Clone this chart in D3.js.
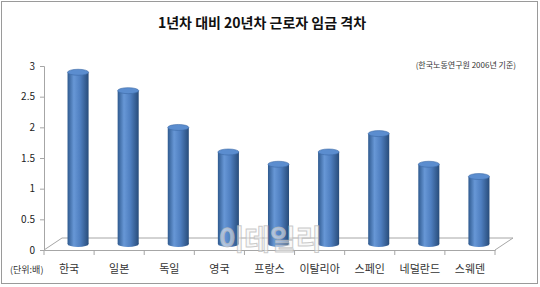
<!DOCTYPE html>
<html>
<head>
<meta charset="utf-8">
<script src="https://cdn.jsdelivr.net/npm/d3@7"></script>
<style>
    body { margin: 0; background: #fff; }
    text { font-family: "Noto Sans CJK KR", "Noto Sans", sans-serif; }
</style>
</head>
<body>
<div id="chart"></div>
<script>
const countries = ["한국", "일본", "독일", "영국", "프랑스", "이탈리아", "스페인", "네덜란드", "스웨덴"];
const gaps = [2.8, 2.5, 1.9, 1.5, 1.3, 1.5, 1.8, 1.3, 1.1];
const yTicks = [0, 0.5, 1, 1.5, 2, 2.5, 3];

const title = "1년차 대비 20년차 근로자 임금 격차";
const sourceNote = "(한국노동연구원 2006년 기준)";
const unitNote = "(단위:배)";

const W = 540, H = 287;
const depth = { dx: 18, dy: 12 };

const svg = d3.select("#chart")
    .append("svg")
    .attr("width", W)
    .attr("height", H);

const defs = svg.append("defs");
const grad = defs.append("linearGradient")
    .attr("id", "cyl")
    .attr("x1", "0%").attr("x2", "100%")
    .attr("y1", "0%").attr("y2", "0%");
grad.append("stop").attr("offset", "0%").attr("stop-color", "#2f5a8f");
grad.append("stop").attr("offset", "30%").attr("stop-color", "#6797d6");
grad.append("stop").attr("offset", "60%").attr("stop-color", "#4f7fc0");
grad.append("stop").attr("offset", "100%").attr("stop-color", "#284c7a");

// outer frame
svg.append("rect")
    .attr("x", 1.5).attr("y", 1.5)
    .attr("width", 536).attr("height", 282)
    .attr("fill", "#fff")
    .attr("stroke", "#9a9a9a");

svg.append("text")
    .attr("x", 262).attr("y", 28)
    .attr("text-anchor", "middle")
    .attr("font-size", 14)
    .attr("font-weight", "bold")
    .attr("fill", "#111")
    .text(title);

svg.append("text")
    .attr("x", 516).attr("y", 68)
    .attr("text-anchor", "end")
    .attr("font-size", 8)
    .attr("fill", "#333")
    .text(sourceNote);

const x = d3.scaleBand()
    .domain(countries)
    .range([44, 495]);

const y = d3.scaleLinear()
    .domain([0, 3])
    .range([250, 66]);

// floor
const floorColor = "#a6a6a6";
const y0 = y(0);
svg.append("path")
    .attr("d", `M44,${y0} L${44 + depth.dx},${y0 - depth.dy} L${495 + depth.dx},${y0 - depth.dy} L495,${y0}`)
    .attr("fill", "none")
    .attr("stroke", floorColor);

// y axis
const yAxis = svg.append("g")
    .attr("transform", "translate(44,0)")
    .call(d3.axisLeft(y).tickValues(yTicks).tickSize(4).tickFormat(d => d));
yAxis.select(".domain").attr("stroke", floorColor);
yAxis.selectAll(".tick line").attr("stroke", floorColor);
yAxis.selectAll(".tick text")
    .attr("font-size", 10)
    .attr("fill", "#222")
    .attr("x", -9)
    .attr("font-family", "\"Liberation Sans\", sans-serif");

// x axis
const xAxis = svg.append("g")
    .attr("transform", `translate(0,${y0})`)
    .call(d3.axisBottom(x).tickSize(0).tickSizeOuter(0));
xAxis.select(".domain").attr("stroke", floorColor);
xAxis.selectAll(".tick text")
    .attr("font-size", 11)
    .attr("fill", "#333")
    .attr("dy", 0)
    .attr("y", 23);

svg.append("g")
    .selectAll("line")
    .data(d3.range(countries.length + 1))
    .join("line")
    .attr("x1", i => 44 + i * x.step())
    .attr("x2", i => 44 + i * x.step())
    .attr("y1", y0)
    .attr("y2", y0 + 5)
    .attr("stroke", floorColor);

svg.append("text")
    .attr("x", 10).attr("y", 273)
    .attr("font-size", 9)
    .attr("fill", "#333")
    .text(unitNote);

// cylinders
const bw = x.bandwidth() * 0.42;
const ry = 3;
const bars = svg.append("g")
    .selectAll("g")
    .data(countries.map((c, i) => ({ c, v: gaps[i] })))
    .join("g")
    .attr("transform", d => `translate(${x(d.c) + x.bandwidth() / 2 + depth.dx / 2},${-depth.dy / 2})`);

bars.append("ellipse")
    .attr("cx", 0).attr("cy", y0)
    .attr("rx", bw / 2).attr("ry", ry)
    .attr("fill", "url(#cyl)");

bars.append("rect")
    .attr("x", -bw / 2)
    .attr("y", d => y(d.v))
    .attr("width", bw)
    .attr("height", d => y0 - y(d.v))
    .attr("fill", "url(#cyl)");

bars.append("ellipse")
    .attr("cx", 0).attr("cy", d => y(d.v))
    .attr("rx", bw / 2).attr("ry", ry)
    .attr("fill", "#5b8dcf")
    .attr("stroke", "#3d6aa6")
    .attr("stroke-width", 0.6);

// watermark over the bars
svg.append("text")
    .attr("x", 270).attr("y", 250)
    .attr("text-anchor", "middle")
    .attr("font-size", 28)
    .attr("font-weight", "bold")
    .attr("fill", "#f2f2f2")
    .attr("fill-opacity", 0.55)
    .attr("stroke", "#b5b5b5")
    .attr("stroke-width", 1)
    .attr("stroke-opacity", 0.7)
    .text("이데일리");
</script>
</body>
</html>
